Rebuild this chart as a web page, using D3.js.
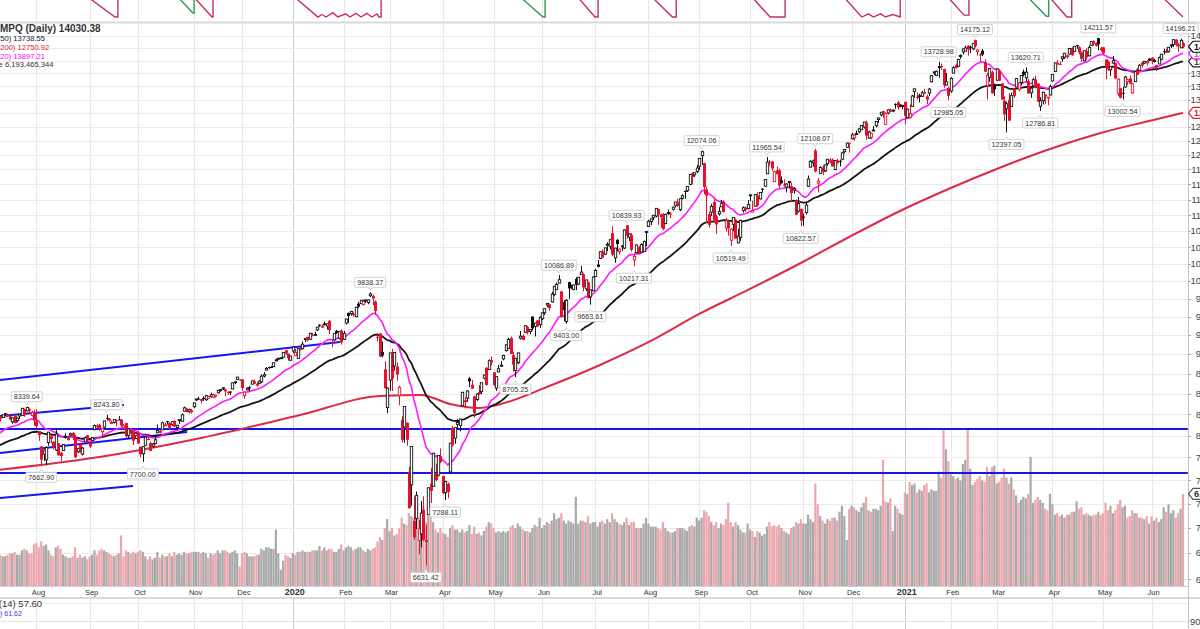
<!DOCTYPE html>
<html><head><meta charset="utf-8">
<script src="https://cdn.jsdelivr.net/npm/d3@7"></script>
<style>body{margin:0;background:#fff}svg{display:block}</style></head>
<body><svg id="c" width="1200" height="629"></svg>
<script>
// ---------- DATA ----------
const monthDays=[16,22,20,23,20,21, 21,19,22,21,20,22,22,21,21,22,20,22, 19,19,23,21,20,14];
const monthLabels=["Aug","Sep","Oct","Nov","Dec","2020","Feb","Mar","Apr","May","Jun","Jul","Aug","Sep","Oct","Nov","Dec","2021","Feb","Mar","Apr","May","Jun"];
const preClose=[8161,8095,8049,8036,8164,8123,7963,7943,7910,7917,7647,7735,7822,7898,7816,7703,7786,7751,7629,7637,7607,7547,7567,7453,7333,7527,7575,7616,7742,7823,7822,7792,7837,7797,7845,7953,7987,8051,8032,8005,7885,7909,7967,8006,8092,8109,8170,8162,8098,8141];
const close=[
8202,8196,8244,8258,8222,8185,8207,8146,8204,8251,8321,8238,8330,8293,8273,8175,
8111,8004,7726,7833,7862,8039,7959,7863,8017,7774,7767,7896,7990,7949,8021,7991,7752,7853,7827,7856,7974,7963,
7874,7976,8117,8103,8087,8084,8170,8194,8177,8153,8186,8177,8182,8118,8113,7993,8077,8031,7940,7999,
7908,7785,7872,7982,7956,7824,7903,7951,8057,8048,8149,8124,8156,8090,8163,8104,8120,8186,8243,8326,8276,8304,8292,
8386,8434,8435,8411,8434,8475,8464,8486,8482,8480,8540,8549,8570,8526,8506,8520,8632,8647,8705,8665,
8567,8520,8566,8570,8656,8621,8616,8654,8717,8735,8814,8823,8827,8887,8925,8945,8952,9022,9007,8945,8973,
9093,9020,9071,9068,9129,9203,9179,9274,9251,9259,9357,9389,9370,9383,9402,9315,9139,9269,9276,9299,9151,
9273,9467,9509,9572,9520,9629,9638,9726,9711,9731,9733,9817,9751,9577,9221,8966,8980,8566,8567,
9015,8684,9019,8738,8576,7950,8344,7952,7201,7875,6905,7335,6990,7151,6880,6861,7418,7385,7798,7502,7774,7700,
7361,7487,7374,7913,7887,8091,8153,8193,8516,8393,8532,8650,8561,8263,8495,8494,8634,8730,8607,8914,8890,
8605,8710,8810,8855,8980,9121,9192,9002,8863,8944,9015,9235,9185,9375,9284,9325,9340,9412,9369,9490,
9552,9609,9683,9616,9814,9925,9953,10020,9493,9589,9726,9896,9911,9943,9946,10056,10131,9909,10017,9757,9874,10059,
10155,10208,10434,10344,10492,10548,10617,10391,10489,10550,10473,10503,10768,10681,10706,10462,10363,10536,10402,10543,10587,10745,
10903,10941,10998,11108,11011,10968,10782,11012,11042,11019,11129,11210,11146,11265,11312,11379,11466,11665,11625,11696,11775,
11939,12056,11458,11313,10847,11141,10919,10854,11056,11190,11051,10910,10794,10779,10964,10633,10672,10914,11118,11086,11168,
11327,11076,11332,11155,11365,11420,11580,11876,11863,11768,11714,11672,11479,11517,11485,11506,11548,11358,11431,11005,11186,10912,
10958,11161,11590,11891,11895,11714,11554,11787,11710,11829,11925,11899,11802,11905,11855,11881,12037,12095,12206,12199,
12355,12349,12377,12464,12520,12583,12339,12405,12378,12440,12595,12658,12764,12756,12742,12808,12771,12805,12900,12851,12870,12888,
12698,12819,12741,13067,13202,13036,13072,13129,13112,12998,13197,13457,13530,13543,13635,13626,13271,13337,13070,
13403,13612,13610,13777,13856,13988,14007,13973,14025,14095,14047,13966,13865,13874,13533,13465,13598,13119,13192,
13589,13359,12998,12723,12920,12609,13073,13069,13399,13320,13460,13472,13525,13116,13215,13378,13228,12961,12978,13139,13059,13046,13247,
13480,13706,13698,13688,13829,13900,13850,13996,13857,14039,14052,13914,13787,13950,13818,14017,14138,14091,14051,14082,13962,
13895,13633,13582,13633,13752,13402,13389,13032,13125,13430,13379,13303,13299,13535,13471,13661,13657,13738,13736,13749,
13737,13756,13615,13814,13881,13925,13911,14020,14070,14175,14073,14040,14161,14030.38];
const open=[
8198,8220,8211,8263,8246,8226,8159,8233,8174,8228,8236,8310,8289,8315,8234,8269,
8167,8052,7876,7787,7723,7919,7997,7929,7834,7910,7803,7828,7976,7976,8005,8030,7979,7813,7904,7787,7926,8003,
7917,7940,8067,8117,8125,8044,8098,8206,8198,8139,8154,8183,8188,8187,8090,8145,8002,8071,8050,7966,
8029,7872,7792,7887,7960,7915,7877,7907,8031,8037,8066,8120,8168,8145,8126,8170,8093,8176,8166,8286,8319,8280,8292,
8340,8426,8438,8432,8447,8425,8443,8465,8453,8477,8509,8535,8566,8549,8522,8525,8556,8636,8675,8672,
8674,8474,8545,8578,8617,8651,8616,8627,8645,8718,8792,8832,8833,8836,8921,8943,8946,8958,9050,9005,8919,
9039,8977,8943,9071,9068,9191,9226,9194,9255,9247,9318,9391,9359,9407,9372,9442,9149,9185,9306,9208,9311,
9192,9411,9550,9539,9537,9498,9679,9679,9665,9723,9695,9790,9786,9708,9227,9271,9025,8803,8329,
8667,9004,8845,8839,8474,8182,8098,8149,7592,7450,7070,7094,6874,6940,7185,6879,7134,7465,7433,7574,7554,7766,
7546,7366,7460,7590,8089,7970,8130,8118,8352,8419,8443,8689,8609,8464,8427,8521,8525,8693,8821,8799,8920,
8766,8567,8770,8843,8936,9043,9071,9212,8986,8789,8888,9208,9239,9287,9360,9297,9501,9365,9448,9390,
9471,9553,9660,9667,9703,9811,9879,9971,9853,9703,9434,9985,9935,9880,10032,9956,10094,10100,9889,9985,9774,9860,
10066,10242,10331,10436,10398,10546,10513,10717,10341,10615,10433,10525,10488,10840,10655,10693,10310,10421,10503,10428,10439,10728,
10821,10897,10960,10986,11099,11014,10962,10867,11026,11026,11093,11159,11207,11086,11271,11392,11394,11500,11690,11658,11714,
11805,11986,11861,11414,11018,11046,11211,10979,11020,11133,11218,10797,10901,10609,10855,10929,10568,10651,11076,11121,11102,
11311,11048,11143,11311,11260,11428,11470,11676,11881,11886,11545,11734,11736,11569,11493,11455,11528,11470,11405,11231,11064,11101,
10977,11042,11468,11789,11866,12076,11520,11684,11781,11727,11849,11880,11921,11750,11905,11899,11926,12061,12133,12212,
12282,12299,12374,12408,12446,12493,12573,12295,12311,12430,12517,12628,12715,12782,12541,12750,12810,12791,12914,12949,12906,12877,
12958,12665,12666,12872,13154,13049,13071,13061,13143,13058,13121,13339,13517,13460,13615,13646,13586,13276,13220,
13161,13505,13661,13640,13832,13925,13941,14049,14027,13989,14167,13934,13873,13950,13720,13262,13424,13523,13295,
13368,13556,13307,12976,12827,12997,12872,13203,13236,13195,13322,13533,13413,13349,13126,13260,13383,13303,12874,12977,13095,13032,13085,
13353,13538,13682,13689,13789,13821,13843,13883,14009,13937,14063,14020,13918,13749,13940,13847,14059,14150,14108,14208,13999,
14020,13776,13727,13570,13704,13702,13117,13214,13128,13238,13338,13403,13124,13339,13585,13560,13712,13702,13709,13792,
13810,13756,13660,13685,13780,13940,13942,13936,14052,14077,14175,14074,14009,14102];
const high=[
8223,8230,8245,8265,8256,8236,8211,8243,8210,8252,8322,8316,8340,8319,8292,8303,
8312,8054,7878,7840,7874,8041,8003,7930,8085,7914,7813,7903,8025,7998,8033,8042,8010,7856,7910,7867,7990,8006,
7920,7977,8128,8130,8136,8086,8172,8244,8206,8178,8187,8189,8227,8192,8134,8148,8088,8072,8052,8009,
8056,7872,7873,7989,8005,7930,7914,7996,8127,8077,8163,8152,8171,8156,8164,8180,8120,8192,8261,8342,8330,8317,8313,
8387,8436,8459,8433,8465,8476,8465,8511,8500,8487,8541,8556,8581,8555,8527,8527,8633,8647,8706,8680,
8679,8525,8578,8592,8665,8672,8641,8662,8736,8767,8832,8838,8845,8888,8941,8951,8957,9022,9052,9006,8975,
9093,9065,9072,9092,9168,9204,9228,9274,9279,9294,9358,9393,9392,9434,9402,9451,9185,9277,9320,9302,9324,
9306,9469,9557,9572,9557,9630,9705,9728,9737,9732,9737,9838,9808,9725,9276,9275,9165,8905,8577,
9016,9070,9019,8891,8597,8225,8344,8152,7643,7875,7325,7378,7081,7278,7328,7033,7418,7635,7802,7681,7777,7851,
7547,7493,7474,7914,8110,8091,8192,8196,8520,8454,8541,8705,8669,8474,8505,8605,8637,8735,8832,8931,8970,
8766,8712,8859,8908,8990,9122,9215,9230,9029,8948,9017,9305,9258,9382,9371,9325,9502,9414,9450,9505,
9553,9609,9687,9678,9845,9927,9979,10087,9855,9729,9744,9989,9949,9947,10054,10059,10222,10114,10018,9986,9874,10072,
10179,10310,10434,10467,10493,10578,10617,10825,10490,10625,10482,10532,10777,10840,10708,10719,10416,10540,10519,10563,10602,10748,
10925,10945,11002,11109,11101,11027,11032,11023,11090,11047,11134,11213,11262,11274,11338,11395,11466,11668,11699,11698,11829,
11945,12074,11862,11465,11054,11181,11262,11002,11129,11244,11238,10959,10917,10798,10965,10945,10783,10930,11140,11140,11240,
11336,11230,11334,11371,11376,11440,11580,11966,11912,11894,11730,11800,11762,11633,11585,11517,11548,11524,11451,11253,11292,11101,
11027,11199,11648,11910,11921,12108,11608,11807,11823,11834,11925,11946,11939,11907,11930,11918,12046,12106,12213,12214,
12390,12350,12431,12465,12532,12583,12609,12428,12378,12511,12596,12668,12764,12793,12762,12823,12832,12809,12930,12973,12912,12902,
12958,12831,12909,13090,13208,13138,13110,13165,13206,13089,13219,13462,13541,13556,13729,13689,13594,13509,13240,
13427,13642,13691,13778,13878,13988,14054,14059,14053,14095,14175,13985,13897,13985,13779,13508,13600,13557,13302,
13593,13575,13310,13062,12961,13120,13133,13217,13410,13321,13460,13577,13621,13395,13257,13415,13455,13310,13043,13139,13095,13034,13283,
13484,13714,13766,13739,13838,13900,13869,14000,14017,14041,14070,14044,13936,13954,14000,14054,14139,14157,14119,14212,14031,
14025,13776,13754,13634,13841,13712,13408,13214,13240,13449,13386,13461,13316,13547,13601,13680,13727,13744,13760,13800,
13822,13787,13668,13831,13886,13990,13988,14027,14070,14175,14183,14108,14196,14128];
const low=[
8173,8162,8208,8231,8217,8185,8136,8141,8153,8192,8234,8218,8287,8258,8222,8113,
8087,7938,7663,7712,7664,7883,7910,7840,7822,7771,7713,7828,7963,7942,7993,7946,7744,7799,7805,7773,7926,7923,
7856,7933,8062,8090,8055,7981,8084,8176,8162,8135,8140,8105,8177,8099,8083,7969,7962,7985,7890,7960,
7905,7752,7700,7887,7949,7823,7860,7901,8039,8024,8064,8121,8127,8062,8111,8098,8067,8137,8163,8285,8273,8262,8256,
8322,8408,8425,8381,8410,8411,8437,8452,8447,8452,8501,8522,8545,8469,8481,8482,8553,8617,8668,8664,
8536,8436,8540,8528,8615,8617,8583,8617,8630,8700,8791,8810,8821,8833,8902,8929,8938,8957,8988,8916,8911,
9010,8975,8943,9042,9059,9157,9166,9184,9236,9246,9303,9358,9346,9381,9323,9263,9088,9168,9266,9192,9121,
9186,9392,9415,9513,9496,9491,9618,9679,9658,9690,9672,9772,9659,9520,9165,8958,8956,8565,8264,
8536,8531,8787,8660,8356,7922,7915,7882,7201,7230,6880,6987,6738,6806,6869,6631,7134,7257,7433,7488,7541,7687,
7350,7288,7306,7573,7874,7905,8078,8048,8352,8319,8400,8580,8559,8210,8410,8484,8491,8677,8595,8797,8854,
8595,8532,8767,8840,8917,9033,9068,9001,8774,8705,8867,9188,9182,9285,9258,9259,9311,9231,9355,9346,
9451,9522,9630,9580,9695,9786,9877,9970,9492,9440,9403,9743,9885,9867,9871,9943,10092,9853,9858,9752,9664,9858,
10059,10200,10322,10342,10387,10443,10467,10368,10267,10439,10391,10449,10473,10635,10597,10436,10217,10410,10395,10423,10430,10515,
10818,10845,10921,10964,10849,10801,10763,10867,11005,10952,11072,11124,11133,11065,11253,11264,11376,11484,11505,11623,11687,
11741,11828,11339,10875,10804,10985,10887,10706,10992,11128,11042,10741,10678,10519,10746,10631,10562,10599,11041,11052,11094,
11222,11046,11139,11136,11251,11364,11465,11675,11816,11727,11545,11670,11442,11516,11466,11368,11430,11208,11346,11005,11041,10823,
10830,11008,11455,11789,11798,11701,11366,11684,11655,11706,11814,11855,11801,11738,11854,11800,11911,12028,12133,12040,
12273,12251,12364,12381,12446,12467,12265,12279,12275,12421,12485,12570,12687,12659,12542,12726,12768,12764,12827,12808,12858,12821,
12543,12665,12649,12868,13037,13000,12946,13051,13110,12914,13067,13326,13469,13447,13414,13570,13224,13269,12985,
13130,13505,13594,13623,13786,13874,13940,13853,13905,13959,14016,13855,13727,13842,13524,13003,13337,13107,13070,
13367,13355,12996,12607,12397,12608,12866,13028,13230,13155,13271,13440,13338,13110,13032,13250,13211,12959,12787,12909,12914,12893,13079,
13346,13526,13681,13662,13731,13786,13790,13873,13845,13920,13990,13876,13723,13734,13764,13841,14047,14053,14033,13957,13935,
13871,13385,13550,13450,13680,13390,13071,13022,13003,13224,13276,13302,13110,13339,13466,13555,13618,13688,13656,13742,
13678,13715,13546,13685,13755,13875,13908,13911,14003,14025,14037,13926,14002,13999];
const volume=[
2.2,2.1,2.0,2.0,2.1,2.2,2.2,2.3,2.1,2.1,2.4,2.5,2.4,2.2,2.2,2.8,
2.9,2.6,3.0,2.7,2.8,2.4,2.1,2.0,2.6,2.7,2.5,2.1,2.0,1.9,1.9,2.0,2.6,1.9,2.1,1.9,2.0,1.8,
2.0,2.1,2.4,2.1,2.4,2.5,2.4,2.3,2.2,2.1,2.0,2.1,2.2,3.4,2.0,2.4,2.3,2.2,2.3,2.2,
2.3,2.4,2.3,2.0,1.8,2.0,1.8,1.9,2.3,1.9,2.1,2.0,2.0,2.2,2.0,2.3,2.1,2.2,2.1,2.3,2.2,2.2,2.3,
2.3,2.3,2.3,2.2,2.3,2.2,1.9,2.2,2.1,2.2,2.4,2.2,2.4,2.4,2.3,2.2,2.3,2.4,2.2,1.3,
2.2,2.3,2.2,2.0,2.0,2.0,2.1,2.1,2.5,2.4,2.6,2.6,2.5,2.5,3.8,2.2,1.1,1.7,2.1,2.0,1.9,
2.2,2.1,2.3,2.3,2.4,2.3,2.3,2.3,2.4,2.4,2.4,2.7,2.4,2.6,2.4,2.5,2.5,2.3,2.3,2.5,2.8,
2.4,2.6,2.7,2.6,2.4,2.5,2.6,2.6,2.4,2.3,2.5,2.4,2.5,2.6,3.0,3.3,3.1,3.9,4.5,
3.7,3.9,3.4,3.5,3.9,4.6,4.2,4.1,4.9,4.7,4.6,4.5,4.6,4.4,5.4,4.3,4.7,4.8,4.3,3.8,3.6,3.9,
3.6,3.5,3.3,3.9,4.1,3.8,3.8,3.6,3.8,3.6,3.7,4.1,3.5,4.0,3.5,3.6,3.4,3.7,4.0,4.3,4.2,
3.9,3.6,3.7,3.6,3.7,3.6,3.7,4.0,4.1,3.9,4.2,4.0,3.8,3.7,3.7,3.6,3.9,4.1,4.0,4.6,
3.9,4.1,4.3,4.2,4.4,4.9,4.5,4.6,4.9,4.4,4.2,4.4,4.3,4.2,6.0,4.2,4.4,4.4,4.3,4.7,4.2,4.3,
4.3,4.0,4.3,4.4,4.2,4.5,4.3,4.9,4.5,4.3,4.2,4.1,4.3,4.6,4.1,4.3,4.3,3.9,3.9,3.9,4.2,4.6,
4.2,4.0,4.0,4.0,3.9,3.8,4.3,3.9,3.7,3.6,3.6,3.7,3.9,3.9,3.9,3.8,3.7,4.0,4.1,4.0,4.6,
4.4,4.6,5.1,5.0,4.7,4.3,4.1,4.3,3.9,4.2,4.1,4.5,5.6,4.3,4.0,4.3,4.1,3.8,3.6,3.6,4.2,
3.8,3.7,3.3,3.7,3.6,3.4,3.5,4.0,4.3,4.0,4.1,4.0,4.1,3.9,3.7,3.6,3.5,3.9,4.0,4.3,4.2,4.5,
4.2,4.2,4.8,4.5,4.3,6.9,5.5,4.7,4.4,4.2,4.5,4.4,4.6,4.6,4.4,5.0,5.4,4.7,3.1,5.2,
5.4,5.3,5.1,5.0,5.3,5.6,6.0,5.1,5.0,5.2,5.2,5.1,5.4,8.5,5.7,5.6,5.9,3.7,5.4,5.2,4.9,4.8,
6.3,6.2,7.0,6.8,6.9,6.3,6.5,6.4,6.8,6.9,6.3,6.5,6.4,6.4,7.7,7.3,10.5,9.2,8.4,
7.5,7.4,7.2,7.3,7.1,8.2,8.5,10.5,7.9,6.8,7.0,7.2,7.4,7.1,7.0,8.0,7.4,8.0,8.1,
6.9,7.0,7.3,7.9,7.3,6.9,7.3,6.5,6.1,5.6,5.8,6.0,5.9,6.2,8.7,5.6,5.8,6.0,5.8,5.6,5.2,5.1,6.2,
5.5,4.8,4.9,4.7,4.8,4.6,4.8,4.8,5.0,5.0,5.7,5.2,5.3,4.8,4.9,4.8,4.7,4.8,4.8,5.0,4.8,
4.9,5.6,5.1,5.4,4.9,5.1,5.5,5.8,5.3,5.4,4.6,4.7,5.1,4.9,4.9,4.6,4.6,4.5,4.7,4.2,
4.7,4.4,4.6,4.3,4.5,5.3,5.0,5.5,4.9,5.1,4.6,4.9,5.2,6.193];
// 200-day average: trading-day index / value
const ma200Idx=[0,42,84,125,158,175,187,199,208,228,249,270,290,311,332,352,373,394,414,435,456,476,490];
const ma200Val=[7611,7755,7971,8240,8470,8483,8373,8325,8373,8593,8858,9171,9536,9887,10265,10658,11066,11440,11776,12103,12387,12603,12750.92];
const priceTicks=[6500,6750,7000,7250,7500,7750,8000,8250,8500,8750,9000,9250,9500,9750,10000,10250,10500,10750,11000,11250,11500,11750,12000,12250,12500,12750,13000,13250,13500,13750,14000,14250];
const annIdx=[12,18,45,60,154,177,185,214,232,235,245,260,263,291,303,318,338,332,389,393,404,417,425,431,455,465,489];
const annPrice=[8339.64,7662.90,8243.80,7700.00,9838.37,6631.42,7288.11,8705.25,10086.89,9403.00,9663.61,10839.93,10217.31,12074.06,10519.49,11965.54,12108.07,10822.57,13728.98,12985.05,14175.12,12397.05,13620.71,12786.81,14211.57,13002.54,14196.21];
const annSide=["H","L","H","L","H","L","L","L","H","L","L","H","L","H","L","H","H","L","H","L","H","L","H","L","H","L","H"];
const tlI0=[0.95,0.95,0.95,0.95,0.95,0.95];
const tlP0=[8668,8229,7800,7308,8076,7578];
const tlI1=[141.5,52.2,78.3,55.9,492,492];
const tlP1=[9157,8361,8041,7437,8076,7578];
// upper indicator (Aroon 25): visible dips near zero (index, value)
const aroonDownIdx=[0,36.1,48.5,49.7,49.7,80.3,88.6,89,89,121.7,132.4,134,135.7,138.6,140.6,143.9,145.6,148.1,150.2,152.6,154.7,156.8,157.6,158.5,158.5,239,246.9,248.2,248.2,269.6,278.9,280.5,280.5,311,319.3,325.5,325.5,349,357.2,360,362,365,367,370,373.1,373.1,392,399.5,401.5,401.5,434,442,444,444,480.6,490];
const aroonDownVal=[60,37.5,0.8,0.8,60,37.5,0.8,0.8,60,37.5,0.8,5,0.8,8,0.8,6,0.8,7,0.8,7,0.8,6,0.8,0.8,60,37.5,0.8,0.8,60,37.5,0.8,0.8,60,37.5,0.8,0.8,60,37.5,0.8,6,0.8,6,0.8,5,0.8,60,37.5,4,4,60,37.5,0.8,0.8,60,37.5,0.8];
const aroonUpIdx=[0,73.7,80.7,81.2,81.2,215.1,225.4,226.3,226.3,425,433.5,434.5,434.5,490];
const aroonUpVal=[60,37.5,7.5,7.5,60,37.5,0.8,0.8,60,37.5,2,2,60,60];
const legendLines=["$COMPQ (Daily) 14030.38","EMA(50) 13738.55","EMA(200) 12750.92","EMA(20) 13897.21","Volume 6,193,465,344"];

// ---------- SCALES ----------
const FONT="Liberation Sans, Arial, sans-serif";
const N=close.length;
const svg=d3.select("#c");
const RIGHT=1188, MT=24, MB=586;
const xs=d3.scaleLinear().domain([0,490]).range([-2.3,1183]);
const ys=d3.scaleLog().domain([6000,15000]).range([634.6,0.5]);
const yv=d3.scaleLinear().domain([0,10]).range([MB,437.4]);
const ya=d3.scaleLinear().domain([0,100]).range([17.5,-42.5]);

const defs=svg.append("defs");
defs.append("clipPath").attr("id","cm").append("rect").attr("x",0).attr("y",MT).attr("width",RIGHT).attr("height",MB-MT);
defs.append("clipPath").attr("id","ct").append("rect").attr("x",0).attr("y",0).attr("width",RIGHT).attr("height",21.5);

const monthStart=[];let acc=0;monthDays.forEach(d=>{monthStart.push(acc);acc+=d;});
const mTicks=monthLabels.map((l,k)=>({label:l,i:monthStart[k+1]}));

// ---------- GRID ----------
const g=svg.append("g");
[[0,21.5],[MT,MB],[598,629]].forEach(([a,b])=>{
  g.selectAll(null).data(mTicks).enter().append("line")
   .attr("x1",d=>Math.round(xs(d.i))+0.5).attr("x2",d=>Math.round(xs(d.i))+0.5)
   .attr("y1",a).attr("y2",b)
   .attr("stroke",d=>/^20/.test(d.label)?"#cfcfcf":"#e8e8e8").attr("stroke-width",1);
});
g.selectAll(null).data(priceTicks.filter(v=>ys(v)>MT&&ys(v)<MB)).enter().append("line")
 .attr("x1",0).attr("x2",RIGHT).attr("y1",d=>Math.round(ys(d))+0.5).attr("y2",d=>Math.round(ys(d))+0.5)
 .attr("stroke","#ebebeb");
svg.append("rect").attr("x",0).attr("y",21.5).attr("width",1200).attr("height",2).attr("fill","#d9d9d9");
svg.append("line").attr("x1",0).attr("x2",RIGHT).attr("y1",MB+0.5).attr("y2",MB+0.5).attr("stroke","#d0d0d0");
svg.append("rect").attr("x",0).attr("y",597).attr("width",1200).attr("height",2).attr("fill","#d9d9d9");
svg.append("line").attr("x1",RIGHT+0.5).attr("x2",RIGHT+0.5).attr("y1",0).attr("y2",629).attr("stroke","#c4c4c4");
svg.append("g").selectAll("line").data(priceTicks.filter(v=>ys(v)>MT&&ys(v)<MB)).enter().append("line")
 .attr("x1",RIGHT).attr("x2",RIGHT+3).attr("y1",d=>Math.round(ys(d))+0.5).attr("y2",d=>Math.round(ys(d))+0.5).attr("stroke","#aaa");
svg.append("line").attr("x1",0).attr("x2",RIGHT).attr("y1",603.5).attr("y2",603.5).attr("stroke","#ececec");
svg.append("line").attr("x1",0).attr("x2",RIGHT).attr("y1",621.5).attr("y2",621.5).attr("stroke","#e4e4e4");

// ---------- MAIN PANEL ----------
const mp=svg.append("g").attr("clip-path","url(#cm)");
const prevC=i=>i===0?preClose[preClose.length-1]:close[i-1];
mp.append("g").selectAll("rect").data(d3.range(N)).enter().append("rect")
 .attr("x",i=>xs(i)-1.1).attr("width",2.2)
 .attr("y",i=>yv(volume[i])).attr("height",i=>MB-yv(volume[i]))
 .attr("fill",i=>close[i]>=prevC(i)?"#a9a9a9":"#eda6ad");
mp.append("g").selectAll("line").data(d3.range(tlI0.length)).enter().append("line")
 .attr("x1",k=>Math.max(0,xs(tlI0[k]))).attr("y1",k=>ys(tlP0[k]))
 .attr("x2",k=>Math.min(RIGHT,xs(tlI1[k]))).attr("y2",k=>ys(tlP1[k]))
 .attr("stroke","#1515f0").attr("stroke-width",2);
const all=preClose.concat(close);const P=preClose.length;
function emaOf(n){let e=d3.mean(all.slice(0,n));const out=[];for(let j=n;j<all.length;j++){e=e+(all[j]-e)*2/(n+1);if(j>=P)out.push(e);}return out;}
const ema50=emaOf(50), ema20=emaOf(20);
const ln=d3.line().x(d=>xs(d[0])).y(d=>ys(d[1]));
mp.append("path").attr("d",ln.curve(d3.curveMonotoneX)(ma200Idx.map((v,k)=>[v,ma200Val[k]])))
 .attr("fill","none").attr("stroke","#dd2a48").attr("stroke-width",2);
mp.append("path").attr("d",d3.line().x((d,i)=>xs(i)).y(d=>ys(d))(ema50))
 .attr("fill","none").attr("stroke","#151515").attr("stroke-width",1.8);
mp.append("path").attr("d",d3.line().x((d,i)=>xs(i)).y(d=>ys(d))(ema20))
 .attr("fill","none").attr("stroke","#ff1aff").attr("stroke-width",1.6);
const cg=mp.append("g");
d3.range(N).forEach(i=>{
  const up=close[i]>=prevC(i);const col=up?"#111":"#e8112d";
  const cx=Math.round(xs(i))+0.5;
  cg.append("line").attr("x1",cx).attr("x2",cx).attr("y1",ys(high[i])).attr("y2",ys(low[i])).attr("stroke",col).attr("stroke-width",1);
  const top=ys(Math.max(open[i],close[i])),bot=ys(Math.min(open[i],close[i]));
  const h=Math.max(1,bot-top);
  if(close[i]>=open[i]){
    cg.append("rect").attr("x",cx-1.2).attr("y",top).attr("width",2.4).attr("height",h).attr("fill","#fff").attr("stroke",col).attr("stroke-width",0.9);
  }else{
    cg.append("rect").attr("x",cx-1.5).attr("y",top).attr("width",3).attr("height",h).attr("fill",col);
  }
});
const ag=svg.append("g").attr("font-family",FONT).attr("font-size","7.2px").attr("fill","#333");
annIdx.forEach((ix,k)=>{
  const cx=xs(ix),py=ys(annPrice[k]);const hi=annSide[k]==="H";
  const cy=hi?py-10:py+12;const txt=annPrice[k].toFixed(2);
  const t=ag.append("text").attr("x",cx).attr("y",cy+2.6).attr("text-anchor","middle").text(txt);
  const w=t.node().getComputedTextLength()+5;
  ag.insert("rect","text").attr("x",cx-w/2).attr("y",cy-5).attr("width",w).attr("height",10).attr("fill","#fff").attr("stroke","#c8c8c8").attr("stroke-width",0.8).attr("rx",1);
  ag.insert("path","text").attr("d",hi?`M${cx-2},${cy+5}L${cx},${cy+8}L${cx+2},${cy+5}`:`M${cx-2},${cy-5}L${cx},${cy-8}L${cx+2},${cy-5}`).attr("fill","#fff").attr("stroke","#c8c8c8").attr("stroke-width",0.8);
});

// ---------- LEGEND ----------
const lg=svg.append("g").attr("font-family",FONT);
lg.append("text").attr("x",-20.6).attr("y",32).attr("font-size","10px").attr("font-weight","bold").attr("fill","#333").text(legendLines[0]);
lg.append("text").attr("x",-18.8).attr("y",41).attr("font-size","7.6px").attr("fill","#222").text(legendLines[1]);
lg.append("text").attr("x",-18.8).attr("y",50).attr("font-size","7.6px").attr("fill","#e0203c").text(legendLines[2]);
lg.append("text").attr("x",-18.8).attr("y",59).attr("font-size","7.6px").attr("fill","#f0f").text(legendLines[3]);
lg.append("text").attr("x",-22.5).attr("y",67).attr("font-size","7.6px").attr("fill","#333").text(legendLines[4]);

// ---------- RIGHT AXIS ----------
svg.append("g").attr("font-family",FONT).attr("font-size","9.5px").attr("fill","#444")
 .selectAll("text").data(priceTicks.filter(v=>ys(v)>MT+4&&ys(v)<MB)).enter().append("text")
 .attr("x",1217).attr("y",d=>ys(d)+3.4).attr("text-anchor","end").text(d=>d);
function tag(yc,txt,col,tcol){
  const b=svg.append("g");
  b.append("path").attr("d",`M${RIGHT+0.5},${yc}L${RIGHT+5},${yc-5.5}H1250V${yc+5.5}H${RIGHT+5}Z`).attr("fill","#fff").attr("stroke",col).attr("stroke-width",1.2);
  b.append("text").attr("x",RIGHT+6).attr("y",yc+3.3).attr("font-family",FONT).attr("font-size","9px").attr("font-weight","bold").attr("fill",tcol).text(txt);
}
tag(ys(12750.92),"12750.92","#e0203c","#e0203c");
tag(ys(13738.55),"13738.55","#222","#444");
tag(ys(13897.21),"13897.21","#f0f","#888");
tag(ys(14030.38),"14030.38","#111","#111");
tag(yv(6.193),"6.19B","#555","#333");

// ---------- X AXIS LABELS ----------
svg.append("g").attr("font-family",FONT).selectAll("text").data(mTicks).enter().append("text")
 .attr("x",d=>xs(d.i)+2).attr("y",595).attr("text-anchor","middle")
 .attr("font-size",d=>/^20/.test(d.label)?"9px":"7.5px").attr("font-weight",d=>/^20/.test(d.label)?"bold":"normal")
 .attr("fill","#333").text(d=>d.label);

// ---------- TOP PANEL ----------
const tp=svg.append("g").attr("clip-path","url(#ct)");
const la=d3.line().x(d=>xs(d[0])).y(d=>ya(d[1]));
tp.append("path").attr("d",la(aroonDownIdx.map((v,k)=>[v,aroonDownVal[k]]))).attr("fill","none").attr("stroke","#c4305a").attr("stroke-width",1.4);
tp.append("path").attr("d",la(aroonUpIdx.map((v,k)=>[v,aroonUpVal[k]]))).attr("fill","none").attr("stroke","#2e9a50").attr("stroke-width",1.4);

// ---------- BOTTOM PANEL ----------
const bp=svg.append("g").attr("font-family",FONT);
bp.append("text").attr("x",-17).attr("y",607).attr("font-size","9.5px").attr("fill","#333").text("RSI(14) 57.60");
bp.append("text").attr("x",-20.6).attr("y",616).attr("font-size","7px").attr("fill","#3a3ad0").text("MA(10) 61.62");
bp.append("text").attr("x",1190).attr("y",625).attr("font-size","9.5px").attr("fill","#444").text("90");
</script></body></html>
